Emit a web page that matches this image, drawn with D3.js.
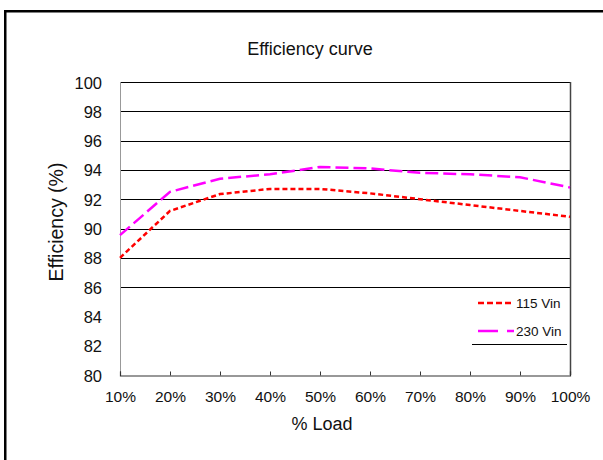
<!DOCTYPE html>
<html>
<head>
<meta charset="utf-8">
<script src="https://cdn.jsdelivr.net/npm/d3@7"></script>
<style>
  html, body { margin: 0; padding: 0; background: #fff; }
  svg { display: block; font-family: "Liberation Sans", Arial, sans-serif; }
</style>
</head>
<body>
<svg id="chart" width="603" height="460"></svg>
<script>
// Load points and efficiency readings for each input voltage
const loads = [10, 20, 30, 40, 50, 60, 70, 80, 90, 100];
const eff115 = [88.0, 91.2, 92.35, 92.7, 92.7, 92.4, 92.0, 91.6, 91.2, 90.8];
const eff230 = [89.55, 92.5, 93.4, 93.7, 94.2, 94.1, 93.8, 93.7, 93.5, 92.8];
const yTicks = [80, 82, 84, 86, 88, 90, 92, 94, 96, 98, 100];
const gridValues = [86, 88, 90, 92, 94, 96, 98, 100];
const seriesNames = ["115 Vin", "230 Vin"];

const svg = d3.select("#chart");

// outer frame
svg.append("rect")
  .attr("x", 5.25).attr("y", 11.25)
  .attr("width", 620).attr("height", 480)
  .attr("fill", "none").attr("stroke", "#000").attr("stroke-width", 2.5);

const x = d3.scaleLinear().domain([10, 100]).range([120, 570]);
const y = d3.scaleLinear().domain([80, 100]).range([375, 82]);

// horizontal grid lines
svg.append("g").selectAll("line").data(gridValues).join("line")
  .attr("x1", x(10)).attr("x2", x(100))
  .attr("y1", d => Math.round(y(d)) + 0.5).attr("y2", d => Math.round(y(d)) + 0.5)
  .attr("stroke", "#000").attr("stroke-width", 1);

// right border of plot area
svg.append("line")
  .attr("x1", 570.5).attr("x2", 570.5).attr("y1", y(100)).attr("y2", y(80))
  .attr("stroke", "#444").attr("stroke-width", 1.5);

// left axis line
svg.append("line")
  .attr("x1", 120.5).attr("x2", 120.5).attr("y1", y(100)).attr("y2", y(80))
  .attr("stroke", "#999").attr("stroke-width", 1);

// y tick labels
svg.append("g").selectAll("text").data(yTicks).join("text")
  .attr("x", 102).attr("y", d => y(d) + 6.5)
  .attr("text-anchor", "end").attr("font-size", 16.5).attr("fill", "#111")
  .text(d => d);

// x axis with inward ticks
const xAxis = d3.axisBottom(x).tickValues(loads).tickSize(-4).tickFormat(d => d + "%");
const gx = svg.append("g").attr("transform", `translate(0,${Math.round(y(80)) + 0.5})`).call(xAxis);
gx.select(".domain").attr("stroke", "#333").attr("stroke-width", 1.2);
gx.selectAll(".tick line").attr("stroke", "#333");
gx.selectAll(".tick text")
  .attr("y", 26).attr("dy", null)
  .attr("font-size", 15.5).attr("font-family", "Liberation Sans, Arial, sans-serif").attr("fill", "#111");

// series lines
const line = d3.line().x((d, i) => x(loads[i])).y(d => y(d));
svg.append("path").datum(eff230)
  .attr("d", line).attr("fill", "none")
  .attr("stroke", "#ff00ff").attr("stroke-width", 2.5)
  .attr("stroke-dasharray", "13,5");
svg.append("path").datum(eff115)
  .attr("d", line).attr("fill", "none")
  .attr("stroke", "#ff0000").attr("stroke-width", 2.5)
  .attr("stroke-dasharray", "5,3");

// title and axis titles
svg.append("text").attr("x", 310).attr("y", 55)
  .attr("text-anchor", "middle").attr("font-size", 18).attr("fill", "#111").text("Efficiency curve");
svg.append("text").attr("x", 322).attr("y", 430)
  .attr("text-anchor", "middle").attr("font-size", 18).attr("fill", "#111").text("% Load");
svg.append("text")
  .attr("transform", "translate(63,222) rotate(-90)")
  .attr("text-anchor", "middle").attr("font-size", 19.5).attr("fill", "#111").text("Efficiency (%)");

// legend
const legend = svg.append("g");
const legendItems = [
  { name: seriesNames[0], color: "#ff0000", dash: "6,3", y: 303 },
  { name: seriesNames[1], color: "#ff00ff", dash: "20,9", y: 331 }
];
legendItems.forEach(item => {
  legend.append("line")
    .attr("x1", 478).attr("x2", 514).attr("y1", item.y).attr("y2", item.y)
    .attr("stroke", item.color).attr("stroke-width", 2.5).attr("stroke-dasharray", item.dash);
  legend.append("text")
    .attr("x", 516).attr("y", item.y + 5)
    .attr("font-size", 13.5).attr("fill", "#111").text(item.name);
});
legend.append("line")
  .attr("x1", 472).attr("x2", 567).attr("y1", 344.5).attr("y2", 344.5)
  .attr("stroke", "#000").attr("stroke-width", 1);
</script>
</body>
</html>
